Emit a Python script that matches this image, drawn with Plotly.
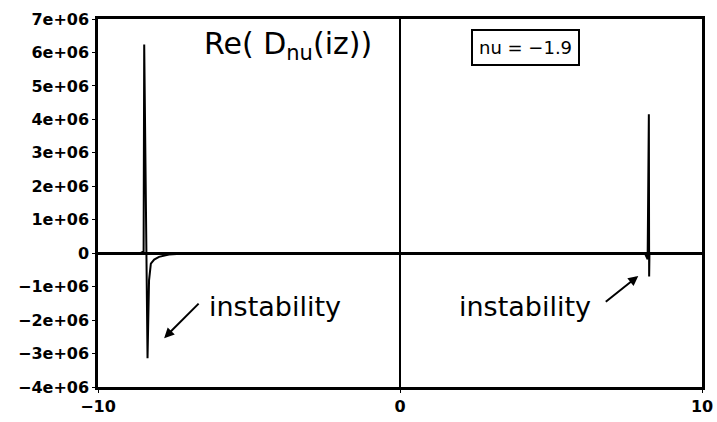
import plotly.graph_objects as go

# Sampled values of Re(D_nu(iz)) for nu = -1.9 on z in [-10, 10]
z_vals = [-10.0, -8.60, -8.49, -8.47, -8.36, -8.31, -8.25, -8.14, -7.98, -7.65,
          -7.00, 0.0, 8.05, 8.12, 8.17, 8.20, 8.24, 8.25, 8.26, 10.0]
re_vals = [0.0, 0.0, 0.05e6, 6.24e6, -3.14e6, -0.81e6, -0.31e6, -0.19e6, -0.11e6, -0.04e6,
           0.0, 0.0, 0.0, -0.03e6, -0.10e6, -0.18e6, 4.15e6, -0.70e6, 0.0, 0.0]

y_tick_vals = [7e6, 6e6, 5e6, 4e6, 3e6, 2e6, 1e6, 0, -1e6, -2e6, -3e6, -4e6]
y_tick_text = ["7e+06", "6e+06", "5e+06", "4e+06", "3e+06", "2e+06", "1e+06", "0",
               "\u22121e+06", "\u22122e+06", "\u22123e+06", "\u22124e+06"]
x_tick_vals = [-10, 0, 10]
x_tick_text = ["\u221210", "0", "10"]

FONT = "DejaVu Sans"

fig = go.Figure()
fig.add_trace(go.Scatter(x=z_vals, y=re_vals, mode="lines",
                         line=dict(color="black", width=2), hoverinfo="skip",
                         showlegend=False))

axis_common = dict(showgrid=False, zeroline=True, zerolinecolor="black",
                   showline=True, mirror=True, linecolor="black", linewidth=2.5,
                   ticks="outside", ticklen=3, tickcolor="black", automargin=False,
                   tickfont=dict(family=FONT, size=16, color="black", weight="bold"))

fig.update_layout(
    width=717, height=422,
    margin=dict(l=98, r=15, t=19, b=35),
    paper_bgcolor="white", plot_bgcolor="white",
    font=dict(family=FONT, color="black", size=16),
    xaxis=dict(range=[-10, 10], tickvals=x_tick_vals, ticktext=x_tick_text,
               zerolinewidth=2, **axis_common),
    yaxis=dict(range=[-4e6, 7e6], tickvals=y_tick_vals, ticktext=y_tick_text,
               zerolinewidth=2.5, **axis_common),
)

fig.add_annotation(x=-6.55, y=6.2e6, xref="x", yref="y", xanchor="left", yanchor="middle",
                   text="Re( D<sub>nu</sub>(iz))", showarrow=False,
                   font=dict(family=FONT, size=30, color="black"))

fig.add_annotation(x=4.15, y=6.16e6, xref="x", yref="y", xanchor="center", yanchor="middle",
                   text="nu = \u22121.9", showarrow=False,
                   bordercolor="black", borderwidth=2, borderpad=6, bgcolor="white",
                   font=dict(family=FONT, size=18, color="black"))

# left instability label and arrow
fig.add_annotation(x=-6.38, y=-1.58e6, xref="x", yref="y", xanchor="left", yanchor="middle",
                   text="instability", showarrow=False,
                   font=dict(family=FONT, size=27, color="black"))
fig.add_annotation(x=-7.81, y=-2.54e6, xref="x", yref="y", ax=36, ay=-36,
                   axref="pixel", ayref="pixel", text="", showarrow=True,
                   arrowhead=2, arrowsize=1, arrowwidth=2, arrowcolor="black")

# right instability label and arrow
fig.add_annotation(x=1.89, y=-1.58e6, xref="x", yref="y", xanchor="left", yanchor="middle",
                   text="instability", showarrow=False,
                   font=dict(family=FONT, size=27, color="black"))
fig.add_annotation(x=7.89, y=-0.68e6, xref="x", yref="y", ax=-34, ay=27,
                   axref="pixel", ayref="pixel", text="", showarrow=True,
                   arrowhead=2, arrowsize=1, arrowwidth=2, arrowcolor="black")

fig.write_html("out.html")
